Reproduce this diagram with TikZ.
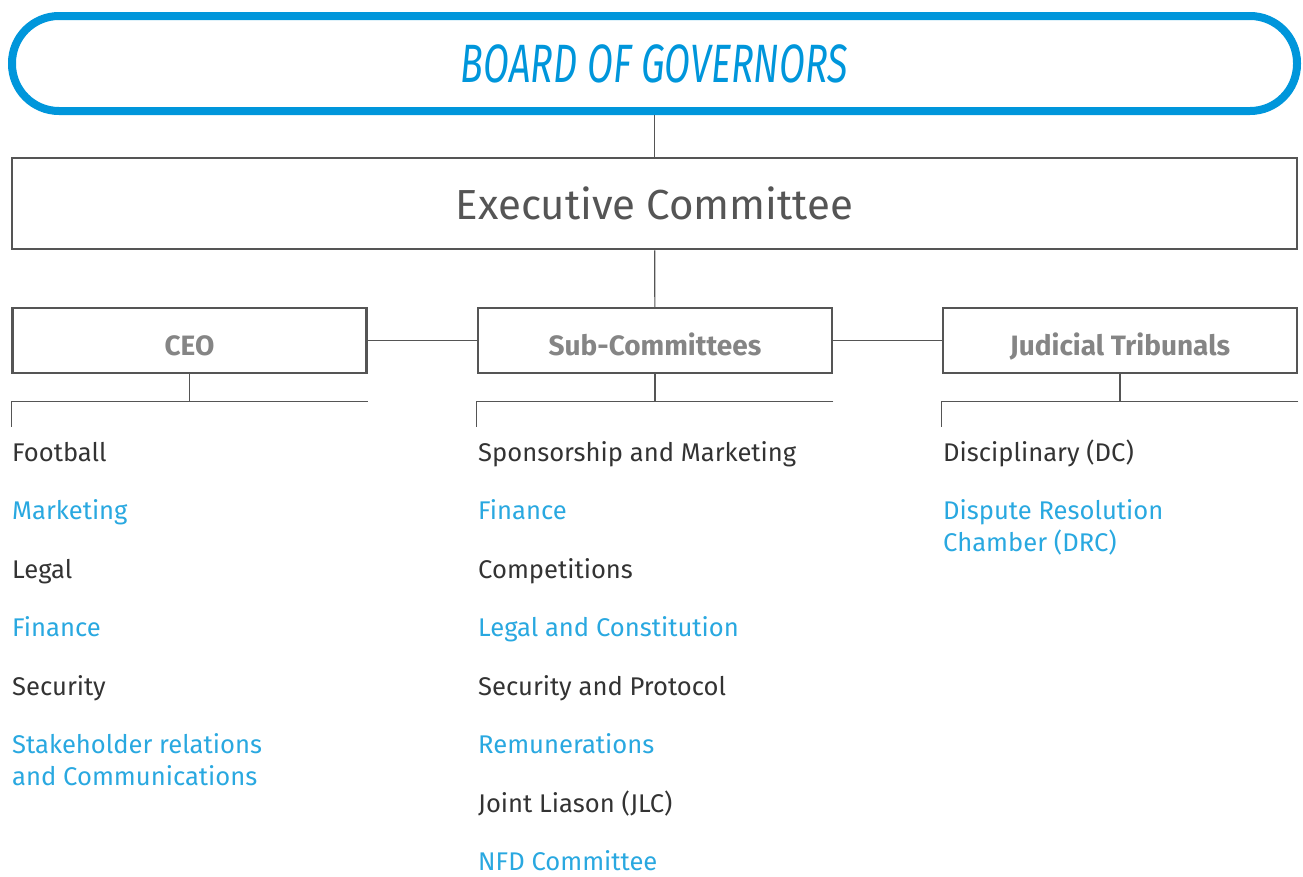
\documentclass[tikz,border=0pt]{standalone}
\usepackage{fontspec}
\setmainfont{Fira Sans}
\newfontfamily\titlefont[FakeStretch=0.70]{Fira Sans}
\usetikzlibrary{positioning}
\definecolor{govblue}{HTML}{0096DB}
\definecolor{itemblue}{HTML}{29A8E0}
\definecolor{boxgray}{HTML}{555555}
\definecolor{headgray}{HTML}{858585}
\definecolor{txtdark}{HTML}{333333}

\begin{document}
\begin{tikzpicture}[x=1pt,y=-1pt,
	box/.style={draw=boxgray, line width=2.5pt, minimum width=354pt, minimum height=65pt, inner sep=0pt,
		text=headgray, text height=29pt, text depth=0pt, font=\fontsize{28}{32}\selectfont\bfseries},
	item/.style={anchor=base west, inner sep=0pt, align=left, font=\fontsize{25.6}{32}\selectfont},
	link/.style={draw=boxgray, line width=1.2pt}]
		\useasboundingbox (0,0) rectangle (1303,876);
		% top of the tree
		\node[draw=govblue, line width=8pt, rounded corners=47pt, minimum width=1285pt, minimum height=95pt,
			text=govblue, font=\titlefont\itshape\fontsize{54}{54}\selectfont] (board) at (654.5,63.5) {BOARD OF GOVERNORS};
		\node[draw=boxgray, line width=2.5pt, minimum width=1285pt, minimum height=91pt, text=boxgray,
			font=\fontsize{42}{50}\selectfont] (exec) at (654.5,203.5) {Executive Committee};
		\node[box] (ceo) at (189.5,340.5) {CEO};
		\node[box] (sub) at (655,340.5) {Sub-Committees};
		\node[box] (jud) at (1120,340.5) {Judicial Tribunals};
		\draw[link] (board) -- (exec);
		\draw[link] (exec) -- (sub);
		\draw[link] (ceo) -- (sub);
		\draw[link] (sub) -- (jud);
		\foreach \n in {ceo,sub,jud}{
			\draw[link] (\n.south) -- ++(0,27);
			\draw[link] ([yshift=-27pt]\n.south east) -- ([yshift=-27pt]\n.south west) -- ++(0,26);
		}
		% lists (last field: extra drop for two-line entries)
		\foreach \c/\t/\d [count=\i from 0] in {txtdark/Football/0, itemblue/Marketing/0, txtdark/Legal/0,
			itemblue/Finance/0, txtdark/Security/0, itemblue/{Stakeholder relations\\and Communications}/32}
			\node[item, text=\c] (ceo-\i) at (12,461+58.5*\i+\d) {\t};
		\foreach \c/\t [count=\i from 0] in {txtdark/Sponsorship and Marketing, itemblue/Finance, txtdark/Competitions,
			itemblue/Legal and Constitution, txtdark/Security and Protocol, itemblue/Remunerations,
			txtdark/Joint Liason (JLC), itemblue/NFD Committee}
			\node[item, text=\c] (sub-\i) at (478,461+58.5*\i) {\t};
		\foreach \c/\t/\d [count=\i from 0] in {txtdark/Disciplinary (DC)/0, itemblue/{Dispute Resolution\\Chamber (DRC)}/32}
			\node[item, text=\c] (jud-\i) at (943,461+58.5*\i+\d) {\t};
\end{tikzpicture}
\end{document}
